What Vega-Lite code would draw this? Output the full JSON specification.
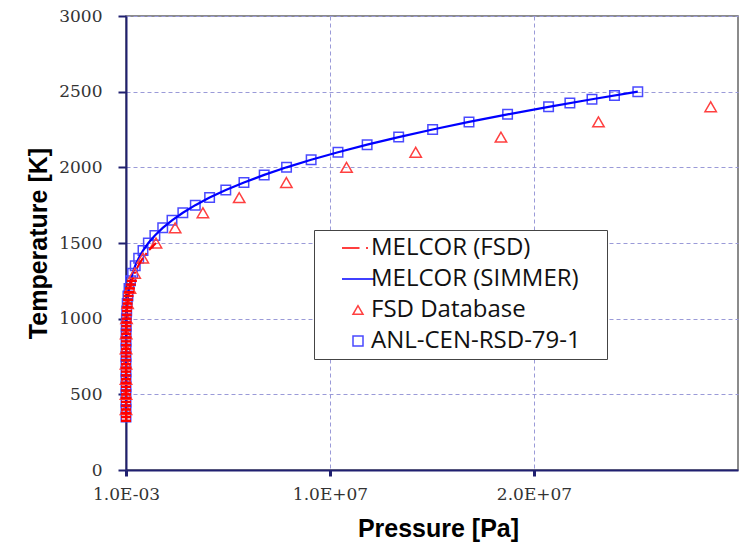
{
  "$schema": "https://vega.github.io/schema/vega-lite/v6.json",
  "autosize": {"type": "none"},
  "padding": {"left": 126, "top": 16, "right": 5, "bottom": 76},
  "width": 612,
  "height": 454,
  "background": "white",
  "datasets": {
    "anl": [
      {"series": "ANL-CEN-RSD-79-1", "T": 350, "P": 0.000002},
      {"series": "ANL-CEN-RSD-79-1", "T": 400, "P": 0.00018},
      {"series": "ANL-CEN-RSD-79-1", "T": 450, "P": 0.006},
      {"series": "ANL-CEN-RSD-79-1", "T": 500, "P": 0.09},
      {"series": "ANL-CEN-RSD-79-1", "T": 550, "P": 0.8},
      {"series": "ANL-CEN-RSD-79-1", "T": 600, "P": 5.5},
      {"series": "ANL-CEN-RSD-79-1", "T": 650, "P": 27},
      {"series": "ANL-CEN-RSD-79-1", "T": 700, "P": 104},
      {"series": "ANL-CEN-RSD-79-1", "T": 750, "P": 335},
      {"series": "ANL-CEN-RSD-79-1", "T": 800, "P": 925},
      {"series": "ANL-CEN-RSD-79-1", "T": 850, "P": 2270},
      {"series": "ANL-CEN-RSD-79-1", "T": 900, "P": 5070},
      {"series": "ANL-CEN-RSD-79-1", "T": 950, "P": 10400},
      {"series": "ANL-CEN-RSD-79-1", "T": 1000, "P": 19600},
      {"series": "ANL-CEN-RSD-79-1", "T": 1050, "P": 35000},
      {"series": "ANL-CEN-RSD-79-1", "T": 1100, "P": 59300},
      {"series": "ANL-CEN-RSD-79-1", "T": 1150, "P": 95600},
      {"series": "ANL-CEN-RSD-79-1", "T": 1200, "P": 148000},
      {"series": "ANL-CEN-RSD-79-1", "T": 1250, "P": 221000},
      {"series": "ANL-CEN-RSD-79-1", "T": 1300, "P": 321000},
      {"series": "ANL-CEN-RSD-79-1", "T": 1350, "P": 452000},
      {"series": "ANL-CEN-RSD-79-1", "T": 1400, "P": 621000},
      {"series": "ANL-CEN-RSD-79-1", "T": 1450, "P": 833000},
      {"series": "ANL-CEN-RSD-79-1", "T": 1500, "P": 1096000},
      {"series": "ANL-CEN-RSD-79-1", "T": 1550, "P": 1416000},
      {"series": "ANL-CEN-RSD-79-1", "T": 1600, "P": 1800000},
      {"series": "ANL-CEN-RSD-79-1", "T": 1650, "P": 2255000},
      {"series": "ANL-CEN-RSD-79-1", "T": 1700, "P": 2786000},
      {"series": "ANL-CEN-RSD-79-1", "T": 1750, "P": 3397000},
      {"series": "ANL-CEN-RSD-79-1", "T": 1800, "P": 4098000},
      {"series": "ANL-CEN-RSD-79-1", "T": 1850, "P": 4892000},
      {"series": "ANL-CEN-RSD-79-1", "T": 1900, "P": 5782000},
      {"series": "ANL-CEN-RSD-79-1", "T": 1950, "P": 6774000},
      {"series": "ANL-CEN-RSD-79-1", "T": 2000, "P": 7870000},
      {"series": "ANL-CEN-RSD-79-1", "T": 2050, "P": 9076000},
      {"series": "ANL-CEN-RSD-79-1", "T": 2100, "P": 10392000},
      {"series": "ANL-CEN-RSD-79-1", "T": 2150, "P": 11820000},
      {"series": "ANL-CEN-RSD-79-1", "T": 2200, "P": 13366000},
      {"series": "ANL-CEN-RSD-79-1", "T": 2250, "P": 15031000},
      {"series": "ANL-CEN-RSD-79-1", "T": 2300, "P": 16814000},
      {"series": "ANL-CEN-RSD-79-1", "T": 2350, "P": 18705000},
      {"series": "ANL-CEN-RSD-79-1", "T": 2400, "P": 20715000},
      {"series": "ANL-CEN-RSD-79-1", "T": 2425, "P": 21759000},
      {"series": "ANL-CEN-RSD-79-1", "T": 2450, "P": 22842000},
      {"series": "ANL-CEN-RSD-79-1", "T": 2475, "P": 23945000},
      {"series": "ANL-CEN-RSD-79-1", "T": 2500, "P": 25088000}
    ],
    "simmer": [
      {"T": 371, "P": 0.00001},
      {"T": 400, "P": 0.00018},
      {"T": 500, "P": 0.09},
      {"T": 600, "P": 5.5},
      {"T": 700, "P": 104},
      {"T": 800, "P": 925},
      {"T": 900, "P": 5070},
      {"T": 1000, "P": 19600},
      {"T": 1050, "P": 35000},
      {"T": 1100, "P": 59300},
      {"T": 1150, "P": 95600},
      {"T": 1200, "P": 148000},
      {"T": 1250, "P": 221000},
      {"T": 1300, "P": 321000},
      {"T": 1350, "P": 452000},
      {"T": 1400, "P": 621000},
      {"T": 1450, "P": 833000},
      {"T": 1500, "P": 1096000},
      {"T": 1550, "P": 1416000},
      {"T": 1600, "P": 1800000},
      {"T": 1650, "P": 2255000},
      {"T": 1700, "P": 2786000},
      {"T": 1750, "P": 3397000},
      {"T": 1800, "P": 4098000},
      {"T": 1850, "P": 4892000},
      {"T": 1900, "P": 5782000},
      {"T": 1950, "P": 6774000},
      {"T": 2000, "P": 7870000},
      {"T": 2050, "P": 9076000},
      {"T": 2100, "P": 10392000},
      {"T": 2150, "P": 11820000},
      {"T": 2200, "P": 13366000},
      {"T": 2250, "P": 15031000},
      {"T": 2300, "P": 16814000},
      {"T": 2350, "P": 18705000},
      {"T": 2400, "P": 20715000},
      {"T": 2450, "P": 22842000},
      {"T": 2500, "P": 25088000}
    ],
    "fsd": [
      {"series": "FSD Database", "T": 400, "P": 0.00024},
      {"series": "FSD Database", "T": 500, "P": 0.12},
      {"series": "FSD Database", "T": 600, "P": 7.3},
      {"series": "FSD Database", "T": 700, "P": 138},
      {"series": "FSD Database", "T": 800, "P": 1220},
      {"series": "FSD Database", "T": 900, "P": 6650},
      {"series": "FSD Database", "T": 1000, "P": 26000},
      {"series": "FSD Database", "T": 1100, "P": 78000},
      {"series": "FSD Database", "T": 1200, "P": 193000},
      {"series": "FSD Database", "T": 1300, "P": 424000},
      {"series": "FSD Database", "T": 1400, "P": 826000},
      {"series": "FSD Database", "T": 1500, "P": 1470000},
      {"series": "FSD Database", "T": 1600, "P": 2410000},
      {"series": "FSD Database", "T": 1700, "P": 3770000},
      {"series": "FSD Database", "T": 1800, "P": 5550000},
      {"series": "FSD Database", "T": 1900, "P": 7860000},
      {"series": "FSD Database", "T": 2000, "P": 10810000},
      {"series": "FSD Database", "T": 2100, "P": 14200000},
      {"series": "FSD Database", "T": 2200, "P": 18380000},
      {"series": "FSD Database", "T": 2300, "P": 23160000},
      {"series": "FSD Database", "T": 2400, "P": 28660000}
    ],
    "melfsd": [
      {"T": 325, "P": 0.0000002},
      {"T": 350, "P": 0.000003},
      {"T": 375, "P": 0.00003},
      {"T": 400, "P": 0.00024},
      {"T": 425, "P": 0.0015},
      {"T": 450, "P": 0.008},
      {"T": 475, "P": 0.035},
      {"T": 500, "P": 0.12},
      {"T": 525, "P": 0.38},
      {"T": 550, "P": 1.06},
      {"T": 575, "P": 2.8},
      {"T": 600, "P": 7.3},
      {"T": 625, "P": 16},
      {"T": 650, "P": 36},
      {"T": 675, "P": 73},
      {"T": 700, "P": 138},
      {"T": 725, "P": 250},
      {"T": 750, "P": 445},
      {"T": 775, "P": 750},
      {"T": 800, "P": 1220},
      {"T": 825, "P": 1930},
      {"T": 850, "P": 3000},
      {"T": 875, "P": 4500},
      {"T": 900, "P": 6650},
      {"T": 925, "P": 9600},
      {"T": 950, "P": 13700},
      {"T": 975, "P": 19200},
      {"T": 1000, "P": 26000},
      {"T": 1025, "P": 35000},
      {"T": 1050, "P": 46500},
      {"T": 1075, "P": 60500},
      {"T": 1100, "P": 78000},
      {"T": 1125, "P": 99000},
      {"T": 1150, "P": 125000},
      {"T": 1175, "P": 156000},
      {"T": 1200, "P": 193000},
      {"T": 1225, "P": 237000},
      {"T": 1250, "P": 289000},
      {"T": 1300, "P": 424000},
      {"T": 1350, "P": 600000},
      {"T": 1400, "P": 826000},
      {"T": 1450, "P": 1110000},
      {"T": 1500, "P": 1470000}
    ]
  },
  "encoding": {
    "x": {
      "field": "P", "type": "quantitative",
      "scale": {"domain": [0, 30000000], "nice": false, "zero": false},
      "axis": {
        "title": "Pressure [Pa]",
        "values": [0, 10000000, 20000000],
        "labelExpr": "datum.value == 0 ? '1.0E-03' : (datum.value == 10000000 ? '1.0E+07' : '2.0E+07')",
        "grid": true, "gridColor": "#9a9ad8", "gridDash": [4, 3], "gridWidth": 1,
        "domainColor": "#202070", "domainWidth": 2,
        "tickColor": "#202070", "tickSize": 6, "tickWidth": 3,
        "labelFont": "DejaVu Serif", "labelFontSize": 17, "labelColor": "#333", "labelPadding": 10,
        "labelFlush": false,
        "titleFont": "Liberation Sans", "titleFontSize": 25, "titleFontWeight": "bold", "titleColor": "#000",
        "titleX": 312, "titleY": 58, "titleBaseline": "middle"
      }
    },
    "y": {
      "field": "T", "type": "quantitative",
      "scale": {"domain": [0, 3000], "nice": false},
      "axis": {
        "title": "Temperature [K]",
        "values": [0, 500, 1000, 1500, 2000, 2500, 3000],
        "format": "d",
        "grid": true, "gridColor": "#9a9ad8", "gridDash": [4, 3], "gridWidth": 1,
        "domainColor": "#202070", "domainWidth": 2,
        "tickColor": "#202070", "tickSize": 8, "tickWidth": 2,
        "labelFont": "DejaVu Serif", "labelFontSize": 17, "labelColor": "#333", "labelPadding": 16,
        "titleFont": "Liberation Sans", "titleFontSize": 25, "titleFontWeight": "bold", "titleColor": "#000",
        "titleX": -88, "titleY": 227, "titleBaseline": "middle"
      }
    }
  },
  "layer": [
    {
      "data": {"name": "anl"},
      "mark": {"type": "point", "filled": false, "size": 90, "strokeWidth": 1.5, "opacity": 1},
      "encoding": {
        "color": {
          "field": "series", "type": "nominal",
          "scale": {
            "domain": ["MELCOR (FSD)", "MELCOR (SIMMER)", "FSD Database", "ANL-CEN-RSD-79-1"],
            "range": ["#ff0000", "#0000ff", "#ff4040", "#4a4aff"]
          },
          "legend": {
            "title": "MMM",
            "titleOrient": "right", "titleColor": "white", "titleFontSize": 8, "titlePadding": 0,
            "orient": "none", "legendX": 188, "legendY": 214,
            "padding": 6,
            "fillColor": "white", "strokeColor": "#444",
            "labelFont": "Open Sans", "labelFontSize": 24, "labelColor": "#111",
            "labelLimit": 400,
            "symbolSize": 100, "symbolStrokeWidth": 1.5,
            "symbolOffset": 26, "labelOffset": 1, "rowPadding": 7
          }
        },
        "shape": {
          "field": "series", "type": "nominal",
          "scale": {
            "domain": ["MELCOR (FSD)", "MELCOR (SIMMER)", "FSD Database", "ANL-CEN-RSD-79-1"],
            "range": ["M-3.2,0H0.3M1.6,0H2.0", "M-3.2,0H3.2", "triangle-up", "square"]
          }
        }
      }
    },
    {
      "data": {"name": "simmer"},
      "mark": {"type": "line", "color": "#0000ff", "strokeWidth": 2.2},
      "encoding": {"order": {"field": "T", "type": "quantitative"}}
    },
    {
      "data": {"name": "fsd"},
      "mark": {"type": "point", "filled": false, "size": 130, "strokeWidth": 1.5, "opacity": 1},
      "encoding": {
        "color": {"field": "series", "type": "nominal"},
        "shape": {"field": "series", "type": "nominal"}
      }
    },
    {
      "data": {"name": "melfsd"},
      "mark": {"type": "line", "color": "#ff0000", "strokeWidth": 2, "strokeDash": [12, 4, 2, 4]},
      "encoding": {"order": {"field": "T", "type": "quantitative"}}
    },
    {
      "data": {"name": "melfsd"},
      "transform": [{"filter": "datum.T <= 1250"}],
      "mark": {"type": "point", "shape": "M-1,0H1", "size": 100, "color": "#ff0000", "strokeWidth": 2.5, "filled": false, "opacity": 1}
    }
  ],
  "config": {
    "view": {"stroke": "#666", "strokeWidth": 1.5}
  }
}
